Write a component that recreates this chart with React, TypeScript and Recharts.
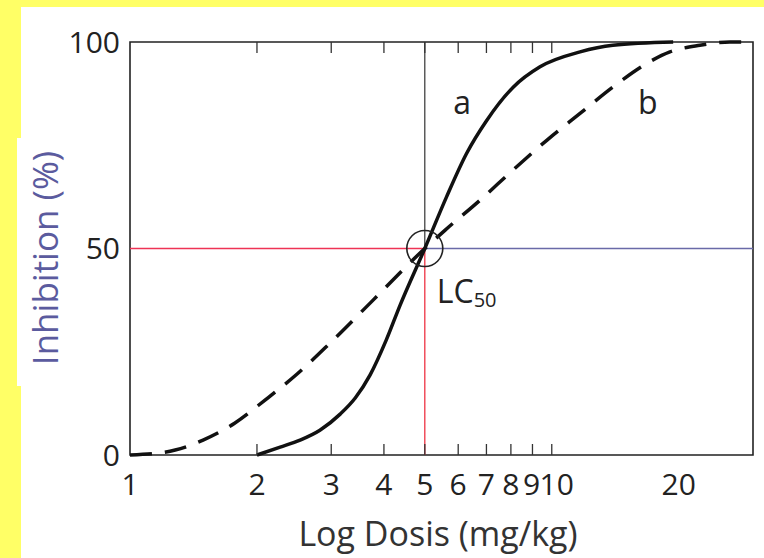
import React from 'react';
import { LineChart, Line, XAxis, YAxis, ReferenceLine, ReferenceArea, ReferenceDot } from 'recharts';

// Tick labels
const doseTicks = [1, 2, 3, 4, 5, 6, 7, 8, 9, 10, 20];
const tickMarkDoses = [2, 3, 4, 5, 6, 7, 8, 9, 10];
const inhibitionTicks = [0, 50, 100];

// Curve a (solid)
const curveADose = [2, 2.27, 2.53, 2.82, 3.15, 3.42, 3.71, 4.05, 4.37, 5, 5.63, 6.28, 7.01, 8.09, 9.38, 11.67, 13.96, 19.4];
const curveAInhibition = [0, 1.9, 3.6, 6.0, 9.9, 13.8, 19.4, 27.8, 36.3, 50, 62.5, 73, 81, 89, 94, 97.6, 99.2, 100];

// Curve b (dashed)
const curveBDose = [1, 1.18, 1.28, 1.49, 1.77, 2.09, 2.49, 2.98, 3.77, 5, 5.58, 6.76, 8.09, 9.73, 11.67, 13.96, 16.79, 19.06, 22.45, 26.45, 30];
const curveBInhibition = [0, 0.5, 1.2, 3.6, 7.7, 13.3, 19.6, 27.1, 37.5, 50, 54.4, 61.7, 69, 76.2, 82.7, 89.1, 94.8, 97.6, 99.2, 100, 100];

// LC50 point and curve labels
const lc50Dose = 5;
const lc50Inhibition = 50;
const labelADose = 6.13;
const labelAInhibition = 85.4;
const labelBDose = 16.9;
const labelBInhibition = 85.4;

const dataA = curveADose.map((d, i) => ({ dose: d, inhibition: curveAInhibition[i] }));
const dataB = curveBDose.map((d, i) => ({ dose: d, inhibition: curveBInhibition[i] }));

const FONT = "'Open Sans', sans-serif";

const BottomTick = (props: any) => {
  const { x, y, payload } = props;
  const v = payload.value;
  const mark = tickMarkDoses.includes(v);
  const dx = v === 10 ? 5 : v === 9 ? -1 : 0;
  return (
    <g>
      {mark && <line x1={x} y1={y} x2={x} y2={y - 11} stroke="#333" strokeWidth={1.3} />}
      <text x={x + dx} y={y + 40} textAnchor="middle" fontFamily={FONT} fontSize={30} fill="#222">
        {v}
      </text>
    </g>
  );
};

const TopTick = (props: any) => {
  const { x, y } = props;
  return <line x1={x} y1={y} x2={x} y2={y + 11} stroke="#333" strokeWidth={1.3} />;
};

export default function App() {
  return (
    <div style={{ position: 'absolute', left: 0, top: 0, width: 764, height: 558, background: '#ffff66', overflow: 'hidden' }}>
      <div style={{ position: 'absolute', left: 21, top: 7, right: 0, bottom: 0, background: '#ffffff' }} />
      <div style={{ position: 'absolute', left: 17, top: 138, width: 54, height: 248, background: '#ffffff' }} />
      <div style={{ position: 'absolute', left: 0, top: 0 }}>
        <LineChart width={764} height={558} margin={{ top: 41, right: 11, bottom: 43, left: 70 }}>
          <XAxis
            xAxisId={0}
            dataKey="dose"
            type="number"
            scale="log"
            domain={[1, 30]}
            allowDataOverflow
            ticks={doseTicks}
            interval={0}
            height={60}
            tickSize={0}
            tickMargin={0}
            tickLine={false}
            axisLine={false}
            tick={<BottomTick />}
            label={() => (
              <text x={438} y={546} textAnchor="middle" fontFamily={FONT} fontSize={34} fill="#333">
                Log Dosis (mg/kg)
              </text>
            )}
          />
          <XAxis
            xAxisId="top"
            orientation="top"
            dataKey="dose"
            type="number"
            scale="log"
            domain={[1, 30]}
            allowDataOverflow
            ticks={tickMarkDoses}
            interval={0}
            height={1}
            tickSize={0}
            tickMargin={0}
            tickLine={false}
            axisLine={false}
            tick={<TopTick />}
          />
          <YAxis
            type="number"
            domain={[0, 100]}
            ticks={inhibitionTicks}
            interval={0}
            width={60}
            tickSize={0}
            tickMargin={10}
            tickLine={false}
            axisLine={false}
            tick={{ fontSize: 30, fill: '#222', fontFamily: FONT }}
            label={() => (
              <text
                x={44}
                y={258}
                transform="rotate(-90 44 258)"
                textAnchor="middle"
                dominantBaseline="central"
                fontFamily={FONT}
                fontSize={35}
                fill="#5b5b9e"
              >
                Inhibition (%)
              </text>
            )}
          />
          <ReferenceArea x1={1} x2={30} y1={0} y2={100} fill="none" stroke="#222" strokeWidth={1.6} ifOverflow="visible" />
          <ReferenceLine segment={[{ x: 1, y: lc50Inhibition }, { x: lc50Dose, y: lc50Inhibition }]} stroke="#ee3355" strokeWidth={1.3} ifOverflow="visible" />
          <ReferenceLine segment={[{ x: lc50Dose, y: lc50Inhibition }, { x: 30, y: lc50Inhibition }]} stroke="#6a6aa8" strokeWidth={1.3} ifOverflow="visible" />
          <ReferenceLine segment={[{ x: lc50Dose, y: 0 }, { x: lc50Dose, y: lc50Inhibition }]} stroke="#ee3344" strokeWidth={1.3} ifOverflow="visible" />
          <ReferenceLine segment={[{ x: lc50Dose, y: lc50Inhibition }, { x: lc50Dose, y: 100 }]} stroke="#333" strokeWidth={1.2} ifOverflow="visible" />
          <Line
            data={dataB}
            dataKey="inhibition"
            type="monotone"
            stroke="#111"
            strokeWidth={3.5}
            strokeDasharray="22 13"
            dot={false}
            activeDot={false}
            isAnimationActive={false}
          />
          <Line
            data={dataA}
            dataKey="inhibition"
            type="monotone"
            stroke="#111"
            strokeWidth={3.5}
            dot={false}
            activeDot={false}
            isAnimationActive={false}
          />
          <ReferenceDot
            x={lc50Dose}
            y={lc50Inhibition}
            r={18}
            fill="none"
            stroke="#222"
            strokeWidth={1.6}
            ifOverflow="visible"
            label={(p: any) => {
              const vb = p.viewBox || {};
              const cx = vb.x + vb.width / 2;
              const cy = vb.y + vb.height / 2;
              return (
                <text x={cx + 12} y={cy + 54} fontFamily={FONT} fontSize={32} fill="#222">
                  LC
                  <tspan fontSize={20} dy={4}>50</tspan>
                </text>
              );
            }}
          />
          <ReferenceDot
            x={labelADose}
            y={labelAInhibition}
            r={0}
            fill="none"
            stroke="none"
            label={{ value: 'a', position: 'center', fontSize: 32, fill: '#222', fontFamily: FONT }}
          />
          <ReferenceDot
            x={labelBDose}
            y={labelBInhibition}
            r={0}
            fill="none"
            stroke="none"
            label={{ value: 'b', position: 'center', fontSize: 32, fill: '#222', fontFamily: FONT }}
          />
        </LineChart>
      </div>
    </div>
  );
}
